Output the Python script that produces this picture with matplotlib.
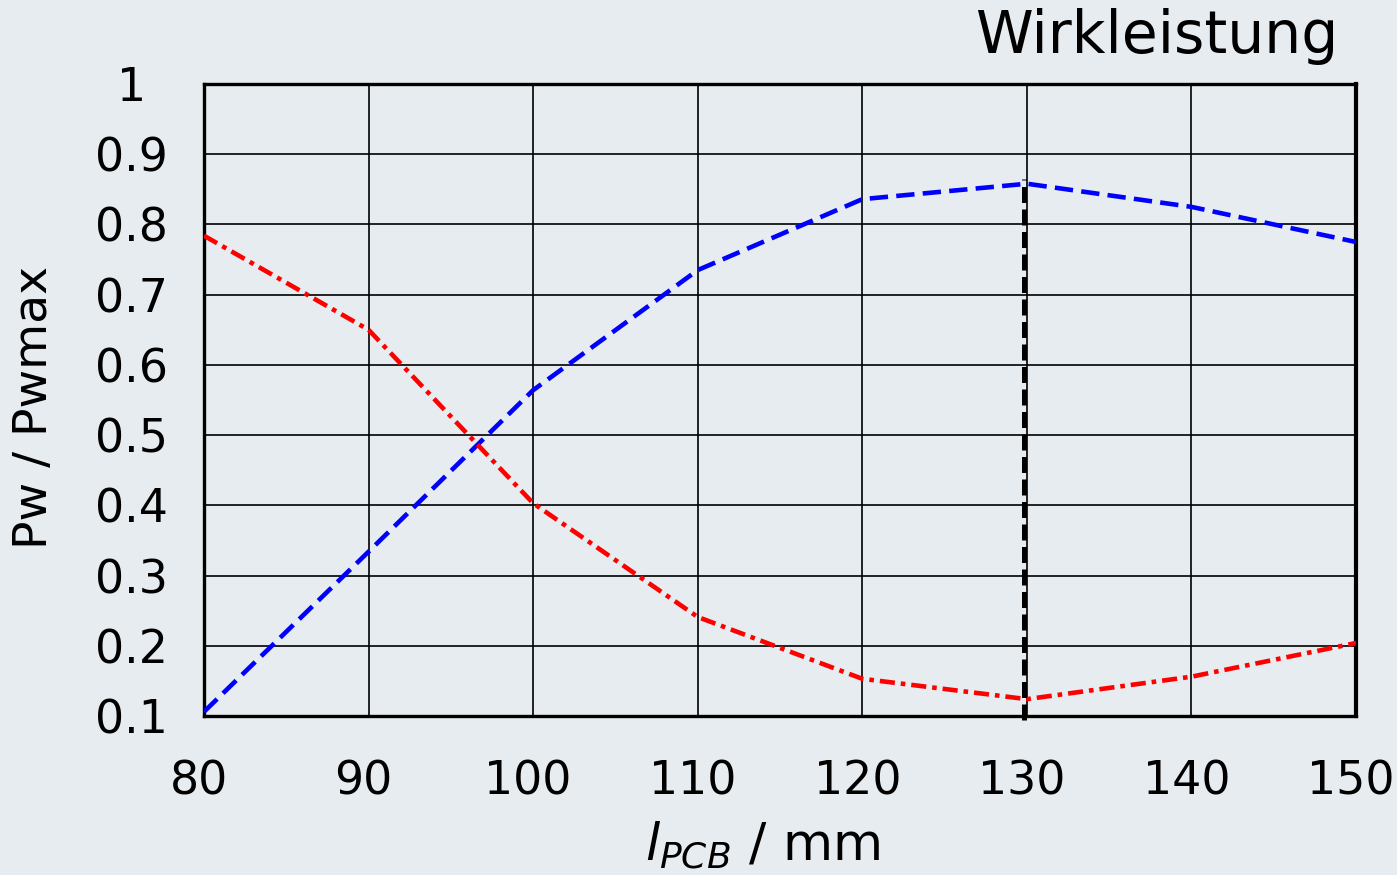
import matplotlib
matplotlib.use("Agg")
import matplotlib.pyplot as plt
import matplotlib.transforms as mtransforms

# Data
x_mm = [80, 90, 100, 110, 120, 130, 140, 150]
blue_vals = [0.106, 0.334, 0.564, 0.735, 0.836, 0.858, 0.825, 0.775]
red_vals = [0.784, 0.650, 0.403, 0.241, 0.153, 0.124, 0.156, 0.204]
marker_x = [129.8, 129.8]
marker_y = [0.094, 0.865]
x_ticks = [80, 90, 100, 110, 120, 130, 140, 150]
y_ticks = [0.1, 0.2, 0.3, 0.4, 0.5, 0.6, 0.7, 0.8, 0.9, 1.0]
y_tick_labels = ["0.1", "0.2", "0.3", "0.4", "0.5", "0.6", "0.7", "0.8", "0.9", "1"]

bg = "#e6ecef"
plt.rcParams["font.family"] = ["DejaVu Sans"]
plt.rcParams["mathtext.fontset"] = "dejavusans"

fig = plt.figure(figsize=(13.97, 8.75), dpi=100, facecolor=bg)
ax = fig.add_axes([0.146, 0.1817, 0.8247, 0.7223])
ax.set_facecolor(bg)

ax.plot(x_mm, blue_vals, color="#0000ff", lw=3.3, linestyle=(0, (4.0, 1.8)), zorder=3)
ax.plot(x_mm, red_vals, color="#ff0000", lw=3.3, linestyle=(0, (3.3, 1.3, 1.0, 1.3)), zorder=3)
ax.plot(marker_x, marker_y, color="black", lw=3.6, linestyle=(0, (3.2, 1.3)), zorder=4, clip_on=False)

ax.set_xlim(80, 150)
ax.set_ylim(0.1, 1.0)
ax.set_xticks(x_ticks)
ax.set_yticks(y_ticks)
ax.set_yticklabels(y_tick_labels)
ax.grid(True, color="black", lw=1.2)
ax.set_axisbelow(True)
ax.tick_params(axis="both", length=0, labelsize=33)
ax.tick_params(axis="y", pad=52)
ax.tick_params(axis="x", pad=31)
for lab in ax.get_yticklabels():
    lab.set_horizontalalignment("center")
shift = mtransforms.ScaledTranslation(-5 / 100, 0, fig.dpi_scale_trans)
for lab in ax.get_xticklabels():
    lab.set_transform(lab.get_transform() + shift)
for side in ["left", "right", "top", "bottom"]:
    ax.spines[side].set_linewidth(2.4)
    ax.spines[side].set_color("black")
ax.spines["right"].set_linewidth(3.0)

fig.text(0.958, 0.939, "Wirkleistung", fontsize=42, ha="right", va="baseline")
fig.text(0.025, 0.534, "Pw / Pwmax", fontsize=34, rotation=90, ha="center", va="center")
fig.text(0.546, 0.017, r"$l_{PCB}$ / mm", fontsize=37, ha="center", va="baseline")

fig.savefig("out.png", dpi=100, facecolor=bg)
